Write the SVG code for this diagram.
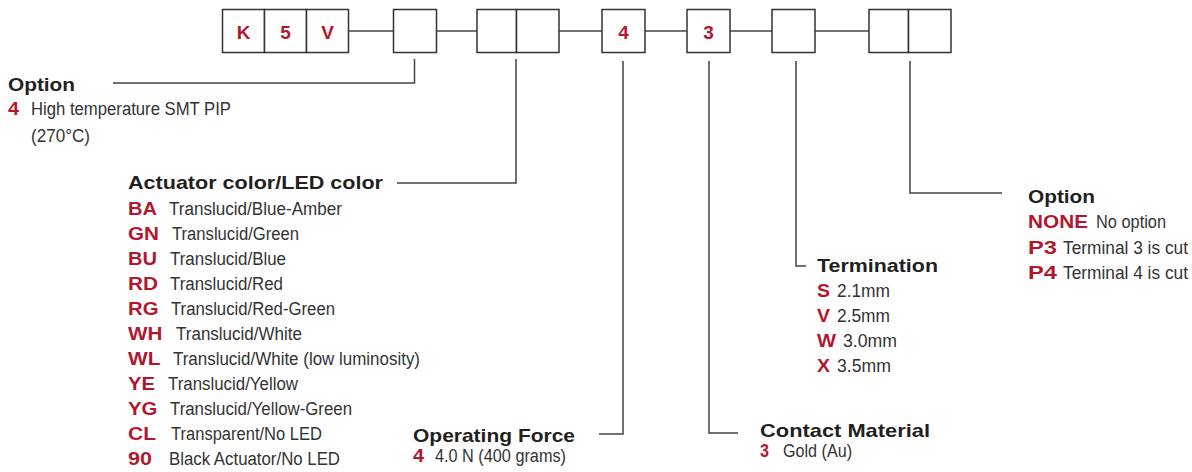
<svg xmlns="http://www.w3.org/2000/svg" width="1192" height="472" viewBox="0 0 1192 472">
<style>
.bx{fill:#fff;stroke:#333;stroke-width:1.5}
.ln{fill:none;stroke:#444;stroke-width:1.5}
.h{font-family:"Liberation Sans",Arial,sans-serif;font-weight:bold;font-size:19px;fill:#231f20}
.c{font-family:"Liberation Sans",Arial,sans-serif;font-weight:bold;font-size:18px;fill:#b3172f}
.d{font-family:"Liberation Sans",Arial,sans-serif;font-size:18px;fill:#333}
.bl{font-family:"Liberation Sans",Arial,sans-serif;font-weight:bold;font-size:19px;fill:#b3172f;text-anchor:middle}
</style>
<rect width="1192" height="472" fill="#fff"/>
<g id="connectors">
<path class="ln" d="M348.5,31H393.5M436.5,31H477M559,31H602M645,31H687M730,31H772M815,31H869"/>
<path class="ln" d="M414.5,59V83H113"/>
<path class="ln" d="M516,59V183H397"/>
<path class="ln" d="M623,61V434H599"/>
<path class="ln" d="M709,61V433H738"/>
<path class="ln" d="M796,61V266H806"/>
<path class="ln" d="M910,61V193H1002"/>
</g>
<g id="box-k5v">
<rect class="bx" x="222.5" y="9.5" width="42" height="43"/>
<rect class="bx" x="264.5" y="9.5" width="42" height="43"/>
<rect class="bx" x="306.5" y="9.5" width="42" height="43"/>
<text class="bl" x="243.5" y="38.5">K</text>
<text class="bl" x="285.5" y="38.5">5</text>
<text class="bl" x="327.5" y="38.5">V</text>
</g>
<g id="box-option1">
<rect class="bx" x="393.5" y="9.5" width="43" height="43"/>
</g>
<g id="box-color">
<rect class="bx" x="477" y="9.5" width="39.5" height="43"/>
<rect class="bx" x="516.5" y="9.5" width="42.5" height="43"/>
</g>
<g id="box-force">
<rect class="bx" x="602" y="9.5" width="43" height="43"/>
<text class="bl" x="623.5" y="38.5">4</text>
</g>
<g id="box-contact">
<rect class="bx" x="687" y="9.5" width="43" height="43"/>
<text class="bl" x="708.5" y="38.5">3</text>
</g>
<g id="box-termination">
<rect class="bx" x="772" y="9.5" width="43" height="43"/>
</g>
<g id="box-option2">
<rect class="bx" x="869" y="9.5" width="39.5" height="43"/>
<rect class="bx" x="908.5" y="9.5" width="42.5" height="43"/>
</g>
<g id="legend-option1">
<text class="h" x="8" y="91" textLength="67" lengthAdjust="spacingAndGlyphs">Option</text>
<text class="c" x="8" y="115" textLength="11" lengthAdjust="spacingAndGlyphs">4</text>
<text class="d" x="31" y="115" textLength="200" lengthAdjust="spacingAndGlyphs">High temperature SMT PIP</text>
<text class="d" x="31" y="142" textLength="59" lengthAdjust="spacingAndGlyphs">(270°C)</text>
</g>
<g id="legend-color">
<text class="h" x="128" y="189" textLength="255" lengthAdjust="spacingAndGlyphs">Actuator color/LED color</text>
<text class="c" x="128" y="215" textLength="29" lengthAdjust="spacingAndGlyphs">BA</text>
<text class="d" x="169" y="215" textLength="173" lengthAdjust="spacingAndGlyphs">Translucid/Blue-Amber</text>
<text class="c" x="128" y="240" textLength="31" lengthAdjust="spacingAndGlyphs">GN</text>
<text class="d" x="172" y="240" textLength="127" lengthAdjust="spacingAndGlyphs">Translucid/Green</text>
<text class="c" x="128" y="265" textLength="29" lengthAdjust="spacingAndGlyphs">BU</text>
<text class="d" x="170" y="265" textLength="116" lengthAdjust="spacingAndGlyphs">Translucid/Blue</text>
<text class="c" x="128" y="290" textLength="30" lengthAdjust="spacingAndGlyphs">RD</text>
<text class="d" x="170" y="290" textLength="113" lengthAdjust="spacingAndGlyphs">Translucid/Red</text>
<text class="c" x="128" y="315" textLength="30.5" lengthAdjust="spacingAndGlyphs">RG</text>
<text class="d" x="171" y="315" textLength="164" lengthAdjust="spacingAndGlyphs">Translucid/Red-Green</text>
<text class="c" x="128" y="340" textLength="34.5" lengthAdjust="spacingAndGlyphs">WH</text>
<text class="d" x="176" y="340" textLength="126" lengthAdjust="spacingAndGlyphs">Translucid/White</text>
<text class="c" x="128" y="365" textLength="32.5" lengthAdjust="spacingAndGlyphs">WL</text>
<text class="d" x="173" y="365" textLength="247" lengthAdjust="spacingAndGlyphs">Translucid/White (low luminosity)</text>
<text class="c" x="128" y="390" textLength="27" lengthAdjust="spacingAndGlyphs">YE</text>
<text class="d" x="168" y="390" textLength="130" lengthAdjust="spacingAndGlyphs">Translucid/Yellow</text>
<text class="c" x="128" y="415" textLength="29.5" lengthAdjust="spacingAndGlyphs">YG</text>
<text class="d" x="170" y="415" textLength="182" lengthAdjust="spacingAndGlyphs">Translucid/Yellow-Green</text>
<text class="c" x="128" y="440" textLength="28" lengthAdjust="spacingAndGlyphs">CL</text>
<text class="d" x="171" y="440" textLength="151" lengthAdjust="spacingAndGlyphs">Transparent/No LED</text>
<text class="c" x="128" y="465" textLength="24" lengthAdjust="spacingAndGlyphs">90</text>
<text class="d" x="169" y="465" textLength="171" lengthAdjust="spacingAndGlyphs">Black Actuator/No LED</text>
</g>
<g id="legend-force">
<text class="h" x="413" y="441.5" textLength="162" lengthAdjust="spacingAndGlyphs">Operating Force</text>
<text class="c" x="413" y="462" textLength="11" lengthAdjust="spacingAndGlyphs">4</text>
<text class="d" x="435" y="462" textLength="131" lengthAdjust="spacingAndGlyphs">4.0 N (400 grams)</text>
</g>
<g id="legend-contact">
<text class="h" x="760" y="437" textLength="170" lengthAdjust="spacingAndGlyphs">Contact Material</text>
<text class="c" x="760" y="457" textLength="9" lengthAdjust="spacingAndGlyphs">3</text>
<text class="d" x="783" y="457" textLength="69" lengthAdjust="spacingAndGlyphs">Gold (Au)</text>
</g>
<g id="legend-termination">
<text class="h" x="817" y="272" textLength="121" lengthAdjust="spacingAndGlyphs">Termination</text>
<text class="c" x="817" y="297" textLength="13" lengthAdjust="spacingAndGlyphs">S</text>
<text class="d" x="837" y="297" textLength="53" lengthAdjust="spacingAndGlyphs">2.1mm</text>
<text class="c" x="817" y="322" textLength="13" lengthAdjust="spacingAndGlyphs">V</text>
<text class="d" x="837" y="322" textLength="53" lengthAdjust="spacingAndGlyphs">2.5mm</text>
<text class="c" x="817" y="347" textLength="19" lengthAdjust="spacingAndGlyphs">W</text>
<text class="d" x="843" y="347" textLength="54" lengthAdjust="spacingAndGlyphs">3.0mm</text>
<text class="c" x="817" y="372" textLength="13" lengthAdjust="spacingAndGlyphs">X</text>
<text class="d" x="837" y="372" textLength="54" lengthAdjust="spacingAndGlyphs">3.5mm</text>
</g>
<g id="legend-option2">
<text class="h" x="1028" y="203" textLength="67" lengthAdjust="spacingAndGlyphs">Option</text>
<text class="c" x="1028" y="228" textLength="60" lengthAdjust="spacingAndGlyphs">NONE</text>
<text class="d" x="1096" y="228" textLength="70" lengthAdjust="spacingAndGlyphs">No option</text>
<text class="c" x="1028" y="254" textLength="29" lengthAdjust="spacingAndGlyphs">P3</text>
<text class="d" x="1063" y="254" textLength="125" lengthAdjust="spacingAndGlyphs">Terminal 3 is cut</text>
<text class="c" x="1028" y="279" textLength="29" lengthAdjust="spacingAndGlyphs">P4</text>
<text class="d" x="1063" y="279" textLength="125" lengthAdjust="spacingAndGlyphs">Terminal 4 is cut</text>
</g>
</svg>
